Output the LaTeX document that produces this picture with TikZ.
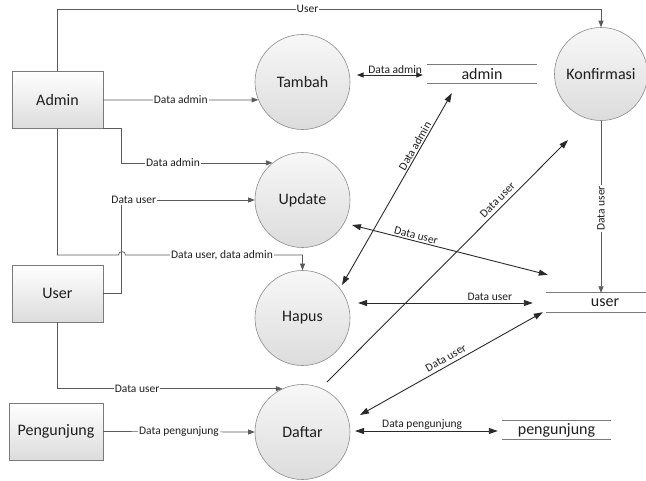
\documentclass[tikz,border=0pt]{standalone}
\usepackage{fontspec}
\setmainfont{Carlito}
\usetikzlibrary{arrows.meta,calc}
\definecolor{linec}{HTML}{5A5A5A}
\definecolor{darkc}{HTML}{2A2A2A}
\definecolor{boxc}{HTML}{7A7A7A}
\definecolor{circc}{HTML}{8C8C8C}
\definecolor{txtc}{HTML}{1E1E1E}
\definecolor{fillb}{HTML}{DCDCDC}
\tikzset{
  tip/.tip={Triangle[length=6.5pt,width=5pt]},
  bigtip/.tip={Triangle[length=9pt,width=6pt]},
  entity/.style={rectangle, draw=boxc, line width=0.6pt, minimum width=91pt,
    minimum height=57pt, inner sep=0pt, top color=white, bottom color=fillb,
    text=txtc, font=\fontsize{16}{19}\selectfont},
  process/.style={circle, draw=circc, line width=0.6pt, minimum size=95pt,
    inner sep=0pt, top color=white!97!black, bottom color=fillb,
    text=txtc, font=\fontsize{16}{19}\selectfont},
  store/.style={inner sep=0pt, minimum height=18pt, text=txtc,
    font=\fontsize{16}{19}\selectfont},
  storeline/.style={draw=boxc, line width=0.7pt},
  flow/.style={draw=linec, line width=0.7pt, -tip},
  sflow/.style={draw=darkc, line width=0.9pt, -bigtip},
  bflow/.style={draw=darkc, line width=0.9pt, bigtip-bigtip},
  lbl/.style={fill=white, inner sep=1pt, text=txtc,
    font=\fontsize{11.5}{13}\selectfont},
  alb/.style={inner sep=1.5pt, text=txtc, font=\fontsize{11.5}{13}\selectfont},
}
\begin{document}
\begin{tikzpicture}[x=1pt,y=-1pt]
\useasboundingbox (0,0) rectangle (646,480);

% external entities
\node[entity] (admin) at (57.5,100) {Admin};
\node[entity] (user) at (57.5,293.5) {User};
\node[entity, minimum width=94pt] (peng) at (56,431.5) {Pengunjung};

% processes
\node[process] (tambah) at (302.5,82) {Tambah};
\node[process] (update) at (302.5,200) {Update};
\node[process] (hapus) at (302.5,318) {Hapus};
\node[process] (daftar) at (302.5,432) {Daftar};
\node[process, minimum size=93pt] (konf) at (601,74) {Konfirmasi};

% data stores
\node[store, minimum width=110pt] (sadmin) at (482,74) {admin};
\node[store, minimum width=118pt, minimum height=19pt] (suser) at (605,302.5) {user};
\node[store, minimum width=109pt] (speng) at (556.5,430) {pengunjung};
\draw[storeline] (sadmin.north west) -- (sadmin.north east)
                 (sadmin.south west) -- (sadmin.south east);
\draw[storeline] (suser.north west) -- ++(100,0)
                 (suser.south west) -- ++(100,0);
\draw[storeline] (speng.north west) -- (speng.north east)
                 (speng.south west) -- (speng.south east);

% flows from the external entities
\draw[flow] (admin.north) -- (admin.north |- 0,9)
  -| node[lbl, pos=0.23] {User} (konf.north);
\draw[flow] (admin.east) -- node[lbl] {Data admin} (tambah.202);
\draw[flow] (admin.south east) -- ++(18.5,0)
  |- node[lbl, pos=0.67] {Data admin} (update.129);
\draw[flow] (admin.south) -- (admin.south |- 0,255) -- (118.5,255)
  .. controls (118.5,250.5) and (125.5,250.5) .. (125.5,255)
  -- node[lbl, pos=0.545] {Data user, data admin} (302.5,255) -- (hapus.north);
\draw[flow] (user.east) -- ++(18.5,0)
  |- node[lbl, pos=0.545] {Data user} (update.west);
\draw[flow] (user.south) |- node[lbl, pos=0.677] {Data user} (daftar.115);
\draw[flow] (peng.east) -- node[lbl] {Data pengunjung} (daftar.west);

% flows between processes and stores
\draw[draw=darkc, line width=0.8pt, tip-tip] ($(tambah.center)+(54.5,-7)$) --
  node[alb, above, pos=0.58] {Data admin} ($(sadmin.west)+(-4,1)$);
\draw[bflow] ($(hapus.center)+(39.5,-33)$) --
  node[alb, sloped, above, pos=0.71] {Data admin} ($(sadmin.south west)+(25,10)$);
\draw[bflow] ($(update.center)+(49.5,25)$) --
  node[alb, sloped, above, pos=0.32] {Data user} ($(suser.north west)+(2,-18)$);
\draw[bflow] ($(hapus.center)+(55.5,-15)$) --
  node[alb, above, pos=0.754] {Data user} ($(suser.west)+(-13,0.5)$);
\draw[bflow] ($(daftar.center)+(57.5,-17)$) --
  node[alb, sloped, above=2pt, pos=0.49] {Data user} ($(suser.south west)+(-3,0)$);
\draw[bflow] ($(daftar.center)+(52.5,-1)$) --
  node[alb, above, pos=0.47] {Data pengunjung} ($(speng.west)+(-4,1)$);
\draw[sflow] ($(daftar.center)+(24.5,-50)$) --
  node[alb, sloped, above=2pt, pos=0.73] {Data user} ($(konf.center)+(-33,66)$);
\draw[flow] (konf.south) --
  node[lbl, rotate=90, pos=0.51] {Data user} (konf.south |- suser.north);
\end{tikzpicture}
\end{document}
